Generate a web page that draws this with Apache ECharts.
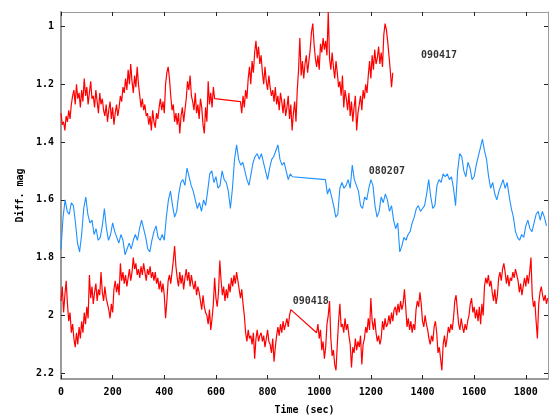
<!DOCTYPE html>
<html>
<head>
<meta charset="utf-8">
<script src="https://cdn.jsdelivr.net/npm/echarts@6/dist/echarts.min.js"></script>
<style>html,body{margin:0;padding:0;background:#fff;}#c{width:549px;height:420px;}</style>
</head>
<body>
<div id="c"></div>
<script>
// ---- data ----
var xTicks = [0, 200, 400, 600, 800, 1000, 1200, 1400, 1600, 1800];
var yTicks = [1, 1.2, 1.4, 1.6, 1.8, 2, 2.2];
var xName = 'Time (sec)';
var yName = 'Diff. mag';

// 090417 (top, red): two sampled segments, 5 s cadence
var red1aStart = 0, red1aStep = 5;
var red1aValues = [1.30,1.34,1.33,1.36,1.31,1.33,1.29,1.32,1.27,
 1.24,1.22,1.27,1.20,1.25,1.23,1.28,
 1.22,1.26,1.18,1.24,1.21,1.27,1.23,1.19,1.25,
 1.24,1.28,1.22,1.26,1.30,1.23,1.27,1.25,1.29,
 1.31,1.27,1.33,1.29,1.26,1.32,1.28,1.34,1.30,1.27,1.31,
 1.28,1.24,1.26,1.21,1.23,
 1.18,1.22,1.15,1.20,1.13,1.19,1.23,1.17,1.21,1.14,1.20,
 1.24,1.28,1.25,1.29,1.27,1.31,
 1.30,1.34,1.31,1.36,1.29,1.33,1.35,1.30,1.32,
 1.28,1.25,1.29,1.26,1.30,
 1.20,1.16,1.14,1.18,
 1.24,1.29,1.27,1.33,1.30,
 1.34,1.30,1.37,1.31,1.28,1.33,1.29,
 1.25,1.19,1.22,1.17,1.24,
 1.26,1.29,1.23,1.30,1.27,1.32,1.25,1.28,
 1.34,1.37,1.28,1.33,1.19,
 1.27,1.23,1.28,1.21,1.25];
var red1bStart = 695, red1bStep = 5;
var red1bValues = [1.26,1.30,1.24,1.28,1.22,1.25,
 1.18,1.14,1.20,1.12,1.16,
 1.09,1.05,1.11,1.07,1.13,1.10,
 1.16,1.20,1.14,1.19,1.22,1.17,1.21,1.24,
 1.22,1.26,1.21,1.27,1.24,1.29,1.23,
 1.26,1.30,1.25,1.31,1.28,1.24,1.32,1.27,1.36,
 1.30,1.26,1.33,1.22,
 1.15,1.04,1.17,1.12,1.18,1.13,1.10,1.16,1.12,
 1.08,1.02,0.99,1.06,1.11,
 1.14,1.10,1.15,
 1.06,1.09,1.04,1.08,1.05,1.10,0.95,
 1.11,1.15,1.09,1.14,1.18,1.12,1.16,1.21,
 1.19,1.24,1.17,1.28,1.22,
 1.25,1.29,1.23,1.31,1.26,1.33,1.28,1.24,1.36,1.30,
 1.27,1.24,1.29,1.22,1.25,1.20,1.23,
 1.17,1.12,1.18,1.10,1.15,1.08,1.13,
 1.11,1.07,1.13,1.09,1.14,
 1.03,0.99,1.01,1.05,
 1.10,1.15,1.21,1.16];

// 080207 (middle, blue): 8 s cadence
var blueAStart = 0, blueAStep = 8;
var blueAValues = [1.77,1.66,1.60,1.64,1.65,1.61,1.62,1.68,1.75,1.78,
 1.72,1.63,1.59,1.65,1.68,1.67,1.72,1.70,1.74,1.73,
 1.69,1.63,1.70,1.74,1.72,1.68,1.71,1.73,1.75,1.72,
 1.74,1.79,1.77,1.75,1.77,1.74,1.72,1.74,1.70,1.67,
 1.70,1.73,1.77,1.78,1.74,1.71,1.69,1.73,1.74,1.72,
 1.74,1.66,1.60,1.57,1.62,1.66,1.64,1.58,1.54,1.53,
 1.55,1.49,1.52,1.55,1.57,1.60,1.63,1.61,1.64,1.60,
 1.62,1.57,1.51,1.50,1.54,1.52,1.56,1.55,1.50,1.53,
 1.54,1.57,1.63,1.56,1.46,1.41,1.46,1.48,1.47,1.50,
 1.53,1.55,1.51,1.47,1.45,1.44,1.46,1.44,1.47,1.50,
 1.53,1.49,1.46,1.45,1.43,1.41,1.46,1.48,1.47,1.50,
 1.53,1.51,1.52];
var blueBStart = 1024, blueBStep = 8;
var blueBValues = [1.53,1.58,1.56,1.59,1.62,1.66,1.65,1.56,1.54,1.56,
 1.55,1.53,1.56,1.48,1.53,1.55,1.57,1.62,1.63,1.59,
 1.60,1.56,1.53,1.55,1.62,1.66,1.64,1.59,1.61,1.58,
 1.60,1.64,1.62,1.67,1.70,1.68,1.78,1.76,1.73,1.74,
 1.72,1.71,1.68,1.66,1.63,1.62,1.64,1.63,1.62,1.58,
 1.53,1.59,1.63,1.62,1.55,1.53,1.54,1.51,1.52,1.51,
 1.53,1.52,1.56,1.62,1.50,1.44,1.45,1.50,1.52,1.47,
 1.49,1.53,1.52,1.48,1.45,1.42,1.39,1.43,1.46,1.52,
 1.56,1.54,1.58,1.60,1.57,1.55,1.53,1.56,1.54,1.59,
 1.63,1.66,1.71,1.73,1.74,1.72,1.73,1.69,1.67,1.70,
 1.71,1.68,1.65,1.64,1.67,1.64,1.66,1.69];

// 090418 (bottom, red): 5 s cadence
var red2aStart = 0, red2aStep = 5;
var red2aValues = [1.95,1.90,1.99,1.93,1.88,1.96,
 2.02,1.99,2.06,2.03,
 2.08,2.11,2.06,2.10,
 2.04,2.08,2.02,2.06,
 1.99,2.03,1.97,2.01,
 1.86,1.94,1.90,1.96,1.92,
 1.89,1.95,1.91,1.93,1.85,
 1.92,1.95,1.90,1.94,1.96,
 1.98,2.01,1.96,1.99,
 1.91,1.88,1.92,1.89,1.93,
 1.82,1.88,1.85,
 1.89,1.86,1.90,1.87,1.84,1.88,
 1.85,1.80,1.84,1.82,1.86,
 1.84,1.87,1.83,1.86,1.82,1.85,1.88,1.84,1.86,1.83,1.87,1.85,
 1.88,1.85,1.89,1.87,
 1.91,1.88,1.92,1.89,1.93,
 2.01,
 1.95,1.88,1.86,1.89,1.85,
 1.81,1.76,1.83,
 1.87,1.90,1.85,1.89,1.86,1.91,1.87,1.84,
 1.88,1.85,1.90,1.86,1.89,
 1.91,1.88,1.93,1.90,1.92,
 1.95,1.98,1.93,1.97,1.99,
 2.00,2.03,1.98,2.05,2.01,
 1.96,1.87,1.94,1.97,1.92,
 1.81,1.88,
 1.93,1.90,1.95,1.91,1.94,1.89,1.92,
 1.87,1.90,1.86,1.89,1.85,1.88,1.91,
 1.94,1.91,1.96,2.00,
 2.06,2.09,2.05,2.08,
 2.07,2.10,2.06,2.15,2.08,2.05,2.09,2.07,
 2.06,2.09,2.07,2.11,2.08,2.05,2.09,
 2.10,2.13,2.08,2.16,2.11,2.07,
 2.04,2.07,2.03,2.06,2.02,2.05,2.03,
 2.01,2.04,2.00,1.98];
var red2bStart = 990, red2bStep = 5;
var red2bValues = [2.06,2.03,2.08,2.05,
 2.12,2.09,2.15,2.11,
 2.03,2.00,1.95,
 2.08,2.14,2.12,2.17,
 2.19,2.10,
 2.02,1.96,2.04,
 2.03,2.06,2.01,2.05,2.03,2.07,
 2.10,2.18,2.11,2.13,2.08,2.12,
 2.09,2.11,2.07,2.17,2.10,2.08,
 2.04,2.06,2.01,2.05,
 1.94,2.02,2.05,2.01,
 2.06,2.09,2.07,2.10,2.08,
 2.02,2.05,2.01,2.04,2.03,
 2.00,2.03,1.99,2.02,1.98,
 1.97,2.00,1.96,1.99,1.95,1.98,
 1.96,1.91,1.97,
 2.04,2.01,2.05,2.02,2.06,2.03,2.05,
 1.98,1.95,1.97,1.92,1.96,
 2.02,2.04,2.00,2.03,2.05,
 2.08,2.10,2.07,2.09,
 2.04,2.02,
 2.06,2.13,2.11,2.15,2.19,
 2.10,2.07,2.11,2.08,
 2.04,2.06,2.03,2.05,2.01,
 1.95,1.93,1.98,
 2.03,2.05,2.01,2.04,2.06,2.03,
 2.05,2.02,2.00,1.96,1.94,
 1.99,1.97,2.01,1.98,2.02,
 1.97,2.03,1.96,2.00,
 1.90,1.87,1.89,1.86,1.90,1.88,
 1.92,1.95,1.91,1.96,1.93,
 1.87,1.85,1.88,1.84,1.82,
 1.85,1.89,1.86,1.90,1.87,
 1.88,1.85,1.87,1.84,1.86,
 1.88,1.92,1.89,1.93,1.90,
 1.87,1.90,1.86,1.89,1.85,1.80,
 1.93,1.97,1.95,2.02,
 2.08,1.96,1.92,1.90,1.93,
 1.95,1.93,1.96,1.94];

var labelNames = ['090417', '080207', '090418'];
var labelX = [1464, 1262, 967];
var labelY = [1.10, 1.50, 1.952];

var xMin = 0, xMax = 1886, yMin = 0.95, yMax = 2.22;

// ---- build ----
function seg(start, step, vals) {
  var out = [];
  for (var i = 0; i < vals.length; i++) out.push([start + i * step, vals[i]]);
  return out;
}
var red1 = seg(red1aStart, red1aStep, red1aValues).concat(seg(red1bStart, red1bStep, red1bValues));
var blue = seg(blueAStart, blueAStep, blueAValues).concat(seg(blueBStart, blueBStep, blueBValues));
var red2 = seg(red2aStart, red2aStep, red2aValues).concat(seg(red2bStart, red2bStep, red2bValues));
var labels = labelNames.map(function (n, i) { return { name: n, value: [labelX[i], labelY[i]] }; });

var FONT = '"DejaVu Sans Mono", "Liberation Mono", monospace';
var axisGray = '#9a9a9a';
var tickStyle = { show: true, inside: true, length: 4, lineStyle: { color: '#222', width: 1 } };

var chart = echarts.init(document.getElementById('c'), null, { renderer: 'canvas' });
chart.setOption({
  animation: false,
  backgroundColor: '#ffffff',
  grid: { left: 61, right: 1, top: 12, bottom: 33, containLabel: false },
  xAxis: [{
    type: 'value', min: xMin, max: xMax, position: 'bottom',
    name: xName, nameLocation: 'middle', nameGap: 26,
    nameTextStyle: { fontFamily: FONT, fontWeight: 'bold', fontSize: 10, color: '#000' },
    axisLine: { show: true, onZero: false, lineStyle: { color: axisGray, width: 2 } },
    axisTick: Object.assign({ customValues: xTicks }, tickStyle),
    axisLabel: { customValues: xTicks, margin: 8, fontFamily: FONT, fontWeight: 'bold', fontSize: 10, color: '#000',
      formatter: function (v) { return String(v); } },
    splitLine: { show: false }
  }, {
    type: 'value', min: xMin, max: xMax, position: 'top',
    axisLine: { show: true, onZero: false, lineStyle: { color: axisGray, width: 1 } },
    axisTick: Object.assign({ customValues: xTicks }, tickStyle),
    axisLabel: { show: false },
    splitLine: { show: false }
  }],
  yAxis: [{
    type: 'value', min: yMin, max: yMax, inverse: true, position: 'left',
    name: yName, nameLocation: 'middle', nameGap: 36, nameRotate: 90,
    nameTextStyle: { fontFamily: FONT, fontWeight: 'bold', fontSize: 10, color: '#000' },
    axisLine: { show: true, onZero: false, lineStyle: { color: axisGray, width: 2 } },
    axisTick: Object.assign({ customValues: yTicks }, tickStyle),
    axisLabel: { customValues: yTicks, margin: 7, fontFamily: FONT, fontWeight: 'bold', fontSize: 10, color: '#000',
      formatter: function (v) { return String(v); } },
    splitLine: { show: false }
  }, {
    type: 'value', min: yMin, max: yMax, inverse: true, position: 'right',
    axisLine: { show: true, onZero: false, lineStyle: { color: axisGray, width: 1 } },
    axisTick: Object.assign({ customValues: yTicks }, tickStyle),
    axisLabel: { show: false },
    splitLine: { show: false }
  }],
  series: [
    { name: '090417', type: 'line', data: red1, showSymbol: false, symbol: 'none',
      lineStyle: { color: '#ff0000', width: 1.2 }, itemStyle: { color: '#ff0000' } },
    { name: '090418', type: 'line', data: red2, showSymbol: false, symbol: 'none',
      lineStyle: { color: '#ff0000', width: 1.2 }, itemStyle: { color: '#ff0000' } },
    { name: '080207', type: 'line', data: blue, showSymbol: false, symbol: 'none',
      lineStyle: { color: '#1e90ff', width: 1.1 }, itemStyle: { color: '#1e90ff' } },
    { name: 'labels', type: 'scatter', data: labels, symbolSize: 0, silent: true, z: 10,
      label: { show: true, position: 'inside', formatter: '{b}', fontFamily: FONT, fontWeight: 'bold', fontSize: 10, color: '#000' } }
  ]
});
</script>
</body>
</html>
